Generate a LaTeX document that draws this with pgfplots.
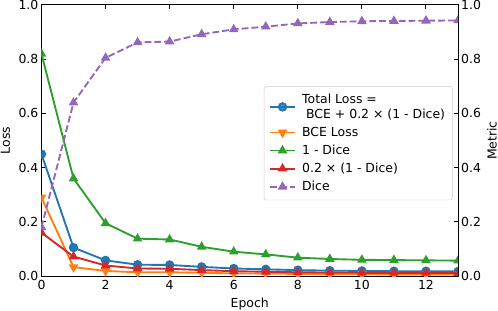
\documentclass[border=0pt]{standalone}
\usepackage{fontspec}
\setmainfont{DejaVu Sans}
\usepackage{pgfplots}
\pgfplotsset{compat=1.18}
\definecolor{c1}{HTML}{1F77B4}
\definecolor{c2}{HTML}{FF7F0E}
\definecolor{c3}{HTML}{2CA02C}
\definecolor{c4}{HTML}{D62728}
\definecolor{c5}{HTML}{9467BD}
\pgfplotsset{common/.style={
  scale only axis, width=334.5pt, height=217.7pt,
  xmin=0, xmax=13, ymin=0, ymax=1,
  tick align=inside, major tick length=3.5pt,
  every tick/.style={black, line width=0.8pt},
  axis line style={line width=0.8pt},
  /pgf/number format/assume math mode=true,
  xtick={0,2,...,12}, ytick={0,0.2,0.4,0.6,0.8,1.0},
  yticklabel style={/pgf/number format/fixed, /pgf/number format/fixed zerofill, /pgf/number format/precision=1},
  tick label style={font=\fontsize{10}{12}\selectfont},
  label style={font=\fontsize{10}{12}\selectfont},
  clip marker paths=true,
  every axis plot/.append style={line width=1.5pt, mark size=3pt},
}}
\begin{document}
\begin{tikzpicture}
\begin{axis}[common, xlabel={Epoch}, ylabel={Loss}, yticklabel pos=left,
  yticklabel style={xshift=1pt}]
\addplot[c1, mark=*] coordinates {(0,0.450)(1,0.105)(2,0.058)(3,0.042)(4,0.041)(5,0.034)(6,0.028)(7,0.025)(8,0.022)(9,0.020)(10,0.019)(11,0.018)(12,0.018)(13,0.017)};
\addplot[c2, mark=triangle*, mark options={rotate=180}] coordinates {(0,0.290)(1,0.033)(2,0.019)(3,0.014)(4,0.014)(5,0.012)(6,0.010)(7,0.009)(8,0.008)(9,0.007)(10,0.007)(11,0.006)(12,0.006)(13,0.006)};
\addplot[c3, mark=triangle*] coordinates {(0,0.820)(1,0.360)(2,0.195)(3,0.138)(4,0.135)(5,0.108)(6,0.090)(7,0.080)(8,0.068)(9,0.063)(10,0.060)(11,0.059)(12,0.058)(13,0.057)};
\addplot[c4, mark=triangle*] coordinates {(0,0.160)(1,0.072)(2,0.039)(3,0.028)(4,0.027)(5,0.022)(6,0.018)(7,0.016)(8,0.014)(9,0.013)(10,0.012)(11,0.012)(12,0.012)(13,0.011)};
\end{axis}
\begin{axis}[common, hide x axis, axis y line*=right, ylabel={Metric},
  yticklabel style={xshift=-1pt}, ylabel style={xshift=0pt, yshift=2pt},
  legend cell align=left,
  legend image code/.code={\draw[mark repeat=2, mark phase=2] plot coordinates {(0pt,0pt)(10pt,0pt)(20pt,0pt)}; \path (23pt,0pt);},
  legend style={at={(0.534,0.701)}, anchor=north west, draw=black!20, rounded corners=2pt,
    fill=white, fill opacity=0.8, text opacity=1, font=\fontsize{10}{12}\selectfont,
    cells={align=left}, row sep=1.5pt, inner xsep=4pt, inner ysep=4pt}]
\addlegendimage{c1, line width=1.5pt, mark=*, mark size=3pt}
\addlegendentry{Total Loss =\\\ BCE + 0.2 × (1 - Dice)}
\addlegendimage{c2, line width=1.5pt, mark=triangle*, mark size=3pt, mark options={rotate=180}}
\addlegendentry{BCE Loss}
\addlegendimage{c3, line width=1.5pt, mark=triangle*, mark size=3pt}
\addlegendentry{1 - Dice}
\addlegendimage{c4, line width=1.5pt, mark=triangle*, mark size=3pt}
\addlegendentry{0.2 × (1 - Dice)}
\addplot[c5, mark=triangle*, dash pattern=on 5.5pt off 2.4pt, mark options={solid}] coordinates {(0,0.180)(1,0.640)(2,0.805)(3,0.862)(4,0.865)(5,0.892)(6,0.910)(7,0.920)(8,0.932)(9,0.937)(10,0.940)(11,0.941)(12,0.942)(13,0.943)};
\addlegendentry{Dice}
\end{axis}
\pgfresetboundingbox
\path (-33.3pt,-27.3pt) rectangle (366.6pt,221.7pt);
\end{tikzpicture}
\end{document}
